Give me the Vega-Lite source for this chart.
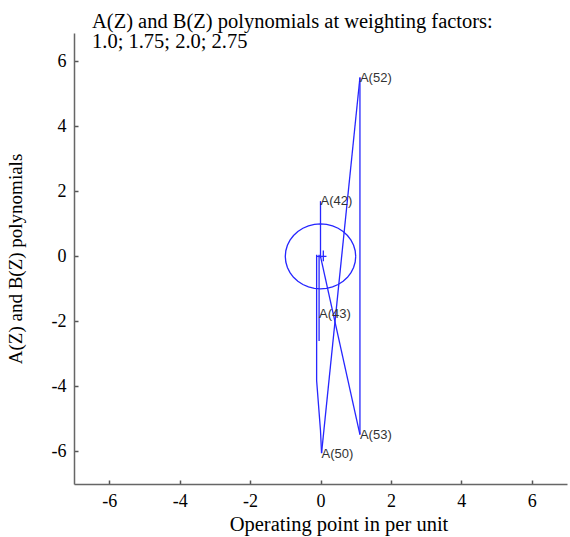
{
  "$schema": "https://vega.github.io/schema/vega-lite/v6.json",
  "width": 493,
  "height": 451,
  "autosize": {"type": "none"},
  "padding": {"left": 74, "top": 33, "right": 3, "bottom": 53},
  "background": "white",
  "title": {
    "text": ["A(Z) and B(Z) polynomials at weighting factors:", "1.0; 1.75; 2.0; 2.75"],
    "anchor": "start",
    "frame": "group",
    "orient": "top",
    "font": "Liberation Serif",
    "fontSize": 20.5,
    "fontWeight": "normal",
    "lineHeight": 20,
    "color": "black",
    "dx": 18,
    "dy": 23,
    "baseline": "bottom",
    "offset": -16
  },
  "config": {
    "view": {"stroke": null},
    "axis": {
      "grid": false,
      "domainColor": "#666666",
      "domainWidth": 1.5,
      "tickColor": "#555555",
      "tickSize": -4,
      "tickWidth": 1.5,
      "labelFont": "Liberation Serif",
      "labelFontSize": 18,
      "labelColor": "black",
      "labelExpr": "'' + datum.value",
      "titleFont": "Liberation Serif",
      "titleFontWeight": "normal",
      "titleColor": "black"
    }
  },
  "datasets": {
    "paths": [
      {"path": "c", "i": 0, "x": 1.0, "y": 0.0},
      {"path": "c", "i": 1, "x": 0.9848, "y": 0.1736},
      {"path": "c", "i": 2, "x": 0.9397, "y": 0.342},
      {"path": "c", "i": 3, "x": 0.866, "y": 0.5},
      {"path": "c", "i": 4, "x": 0.766, "y": 0.6428},
      {"path": "c", "i": 5, "x": 0.6428, "y": 0.766},
      {"path": "c", "i": 6, "x": 0.5, "y": 0.866},
      {"path": "c", "i": 7, "x": 0.342, "y": 0.9397},
      {"path": "c", "i": 8, "x": 0.1736, "y": 0.9848},
      {"path": "c", "i": 9, "x": 0.0, "y": 1.0},
      {"path": "c", "i": 10, "x": -0.1736, "y": 0.9848},
      {"path": "c", "i": 11, "x": -0.342, "y": 0.9397},
      {"path": "c", "i": 12, "x": -0.5, "y": 0.866},
      {"path": "c", "i": 13, "x": -0.6428, "y": 0.766},
      {"path": "c", "i": 14, "x": -0.766, "y": 0.6428},
      {"path": "c", "i": 15, "x": -0.866, "y": 0.5},
      {"path": "c", "i": 16, "x": -0.9397, "y": 0.342},
      {"path": "c", "i": 17, "x": -0.9848, "y": 0.1736},
      {"path": "c", "i": 18, "x": -1.0, "y": 0.0},
      {"path": "c", "i": 19, "x": -0.9848, "y": -0.1736},
      {"path": "c", "i": 20, "x": -0.9397, "y": -0.342},
      {"path": "c", "i": 21, "x": -0.866, "y": -0.5},
      {"path": "c", "i": 22, "x": -0.766, "y": -0.6428},
      {"path": "c", "i": 23, "x": -0.6428, "y": -0.766},
      {"path": "c", "i": 24, "x": -0.5, "y": -0.866},
      {"path": "c", "i": 25, "x": -0.342, "y": -0.9397},
      {"path": "c", "i": 26, "x": -0.1736, "y": -0.9848},
      {"path": "c", "i": 27, "x": 0.0, "y": -1.0},
      {"path": "c", "i": 28, "x": 0.1736, "y": -0.9848},
      {"path": "c", "i": 29, "x": 0.342, "y": -0.9397},
      {"path": "c", "i": 30, "x": 0.5, "y": -0.866},
      {"path": "c", "i": 31, "x": 0.6428, "y": -0.766},
      {"path": "c", "i": 32, "x": 0.766, "y": -0.6428},
      {"path": "c", "i": 33, "x": 0.866, "y": -0.5},
      {"path": "c", "i": 34, "x": 0.9397, "y": -0.342},
      {"path": "c", "i": 35, "x": 0.9848, "y": -0.1736},
      {"path": "c", "i": 36, "x": 1.0, "y": 0.0},
      {"path": "p1", "i": 0, "x": 1.12, "y": 5.5},
      {"path": "p1", "i": 1, "x": 1.12, "y": -5.48},
      {"path": "p2", "i": 0, "x": 1.12, "y": 5.5},
      {"path": "p2", "i": 1, "x": 0.03, "y": -6.05},
      {"path": "p3", "i": 0, "x": 0.0, "y": 0.0},
      {"path": "p3", "i": 1, "x": 1.12, "y": -5.48},
      {"path": "p4", "i": 0, "x": 0.0, "y": 1.7},
      {"path": "p4", "i": 1, "x": 0.0, "y": -0.05},
      {"path": "p5", "i": 0, "x": -0.11, "y": 0.05},
      {"path": "p5", "i": 1, "x": -0.11, "y": -3.82},
      {"path": "p5", "i": 2, "x": 0.0, "y": -5.36},
      {"path": "p5", "i": 3, "x": 0.03, "y": -6.05},
      {"path": "p6", "i": 0, "x": -0.04, "y": 0.05},
      {"path": "p6", "i": 1, "x": -0.04, "y": -2.6},
      {"path": "p7", "i": 0, "x": -0.12, "y": 0.0},
      {"path": "p7", "i": 1, "x": 0.17, "y": 0.0},
      {"path": "p8", "i": 0, "x": 0.08, "y": 0.18},
      {"path": "p8", "i": 1, "x": 0.08, "y": -0.15}
    ],
    "labels": [
      {"label": "A(52)", "x": 1.12, "y": 5.5},
      {"label": "A(42)", "x": 0.0, "y": 1.7},
      {"label": "A(43)", "x": -0.04, "y": -1.77},
      {"label": "A(53)", "x": 1.12, "y": -5.5},
      {"label": "A(50)", "x": 0.03, "y": -6.08}
    ]
  },
  "layer": [
    {
      "data": {"name": "paths"},
      "mark": {"type": "line", "color": "#2626ff", "strokeWidth": 1.3, "clip": true},
      "encoding": {
        "x": {
          "field": "x", "type": "quantitative",
          "scale": {"domain": [-7, 7], "nice": false, "zero": false},
          "axis": {"values": [-6, -4, -2, 0, 2, 4, 6], "labelPadding": 12, "title": "Operating point in per unit", "titleFontSize": 20.5, "titlePadding": 4, "titleX": 264.5}
        },
        "y": {
          "field": "y", "type": "quantitative",
          "scale": {"domain": [-7, 6.87], "nice": false, "zero": false},
          "axis": {"values": [-6, -4, -2, 0, 2, 4, 6], "labelPadding": 12, "title": "A(Z) and B(Z) polynomials", "titleFontSize": 19, "titlePadding": 26}
        },
        "detail": {"field": "path"},
        "order": {"field": "i", "type": "quantitative"}
      }
    },
    {
      "data": {"name": "labels"},
      "mark": {"type": "text", "align": "left", "baseline": "middle", "font": "Liberation Sans", "fontSize": 13, "color": "#333333"},
      "encoding": {
        "x": {"field": "x", "type": "quantitative"},
        "y": {"field": "y", "type": "quantitative"},
        "text": {"field": "label"}
      }
    }
  ]
}
